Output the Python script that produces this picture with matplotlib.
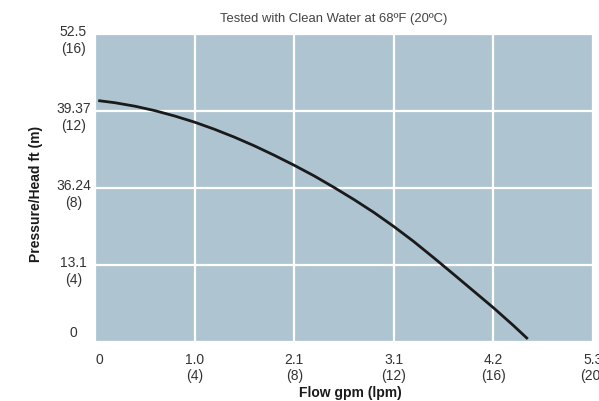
import matplotlib
matplotlib.use("Agg")
from matplotlib import pyplot as plt
from matplotlib import transforms

plt.rcParams["font.family"] = "Liberation Sans"
plt.rcParams["font.size"] = 10

# flow (lpm) vs head (m)
flow_lpm = [0.13, 0.8, 1.6, 2.4, 3.2, 4.0, 4.8, 5.6, 6.4, 7.2, 8.0, 8.8,
            9.6, 10.4, 11.2, 12.0, 12.8, 13.6, 14.4, 15.2, 16.0, 16.8, 17.38]
head_m = [12.54, 12.43, 12.25, 12.02, 11.74, 11.42, 11.05, 10.64, 10.19, 9.70, 9.18, 8.63,
          8.03, 7.40, 6.73, 6.00, 5.22, 4.38, 3.52, 2.65, 1.78, 0.86, 0.16]

x_ticks = [0, 4, 8, 12, 16, 20]
x_labels = ["0", "1.0\n(4)", "2.1\n(8)", "3.1\n(12)", "4.2\n(16)", "5.3\n(20)"]
y_ticks = [0, 4, 8, 12, 16]
y_labels = ["0", "13.1\n(4)", "36.24\n(8)", "39.37\n(12)", "52.5\n(16)"]

fig = plt.figure(figsize=(5.99, 4.02), dpi=100)
ax = fig.add_axes([95 / 599, 59 / 402, 498 / 599, 308 / 402])
ax.set_facecolor("#aec5d1")

ax.plot(flow_lpm, head_m, color="#1a1a1a", lw=2.0, solid_joinstyle="round",
        solid_capstyle="butt", zorder=3)

ax.set_xlim(0, 20)
ax.set_ylim(0, 16)
ax.set_xticks(x_ticks, x_labels)
ax.set_yticks(y_ticks, y_labels)
ax.grid(True, color="white", lw=1.6)
ax.set_axisbelow(True)
for s in ax.spines.values():
    s.set_visible(False)

ax.tick_params(length=0, colors="#333333", labelsize=10)
ax.tick_params(axis="x", pad=7)
ax.tick_params(axis="y", pad=15.5)

for lab in ax.get_xticklabels():
    lab.set_multialignment("center")
ax.get_xticklabels()[0].set_ha("left")

for lab, t in zip(ax.get_yticklabels(), y_ticks):
    lab.set_ha("center")
    lab.set_multialignment("center")
    lab.set_va("center")
    dy = 7 / 72 if t == 0 else -4 / 72
    lab.set_transform(lab.get_transform() + transforms.ScaledTranslation(0, dy, fig.dpi_scale_trans))

fig.text(350 / 599, 1 - 393 / 402, "Flow gpm (lpm)", ha="center", va="center",
         fontweight="bold", fontsize=10, color="#1a1a1a")
fig.text(36.5 / 599, 1 - 193.5 / 402, "Pressure/Head ft (m)", rotation=90, ha="center",
         va="center", fontweight="bold", fontsize=10, color="#1a1a1a")
fig.text(333.7 / 599, 1 - 19 / 402, "Tested with Clean Water at 68ºF (20ºC)", ha="center",
         va="center", fontsize=9.4, color="#444444")

plt.savefig("out.png", dpi=100)
